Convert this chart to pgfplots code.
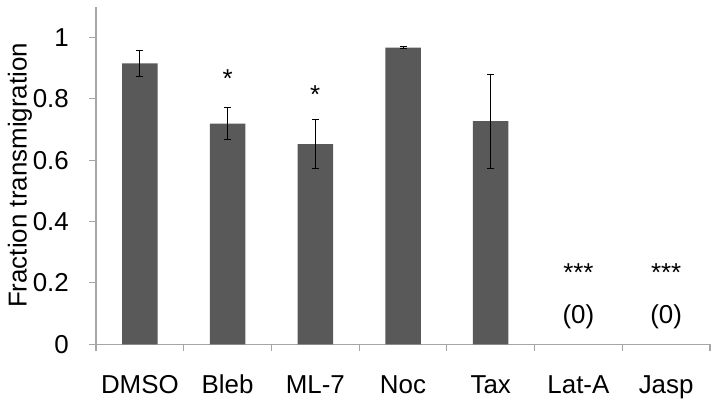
\documentclass[border=0pt]{standalone}
\usepackage{fontspec}
\setmainfont{Liberation Sans}
\usepackage{pgfplots}
\pgfplotsset{compat=1.18}
\usepackage{pgfplotstable}

\definecolor{barfill}{HTML}{595959}
\definecolor{axisgray}{HTML}{A6A6A6}

% drug, fraction, error
\pgfplotstableread{
x  y      e
0  0.915  0.042
1  0.719  0.051
2  0.652  0.080
3  0.966  0.003
4  0.727  0.153
}\fracdata

\begin{document}
\begin{tikzpicture}
\begin{axis}[
    scale only axis,
    width=614bp, height=337.7bp,
    xmin=-0.5, xmax=6.5,
    ymin=0, ymax=1.1,
    axis x line*=bottom,
    axis y line*=left,
    axis line style={draw=axisgray, line width=1.1bp},
    tick align=outside,
    major tick length=7bp,
    minor tick length=7bp,
    tick style={draw=axisgray, line width=1.1bp},
    major x tick style={draw=none},
    xtick={0,...,6},
    xticklabels={DMSO,Bleb,ML-7,Noc,Tax,Lat-A,Jasp},
    minor xtick={-0.5,0.5,...,6.5},
    ytick={0,0.2,...,1.0},
    /pgf/number format/assume math mode=true,
    yticklabel style={font=\fontsize{26}{30}\selectfont, anchor=east, inner sep=0pt, xshift=-20bp},
    xticklabel style={font=\fontsize{26}{30}\selectfont, anchor=base, inner sep=0pt, yshift=-42bp},
    ylabel={Fraction transmigration},
    ylabel style={font=\fontsize{26}{30}\selectfont, at={(axis description cs:-0.113,0.5)}, anchor=base, inner sep=0pt},
    ybar, bar width=35.5bp,
    clip=false,
]
\addplot[fill=barfill, draw=none,
    error bars/.cd, y dir=both, y explicit,
    error bar style={black, line width=0.9bp},
    error mark options={rotate=90, mark size=3.5bp, line width=0.9bp, black}]
    table[x=x, y=y, y error=e] {\fracdata};

\node[font=\fontsize{26}{30}\selectfont, anchor=base] at (axis cs:1,0.838) {*};
\node[font=\fontsize{26}{30}\selectfont, anchor=base] at (axis cs:2,0.783) {*};
\node[font=\fontsize{26}{30}\selectfont, anchor=base] at (axis cs:5,0.203) {***};
\node[font=\fontsize{26}{30}\selectfont, anchor=base] at (axis cs:6,0.203) {***};
\node[font=\fontsize{26}{30}\selectfont, anchor=base] at (axis cs:5,0.068) {(0)};
\node[font=\fontsize{26}{30}\selectfont, anchor=base] at (axis cs:6,0.068) {(0)};

\coordinate (bl) at (rel axis cs:0,0);
\coordinate (tr) at (rel axis cs:1,1);
\end{axis}
\pgfresetboundingbox
\path[use as bounding box] ([shift={(-96bp,-61.7bp)}]bl) rectangle ([shift={(7bp,6.6bp)}]tr);
\end{tikzpicture}
\end{document}
